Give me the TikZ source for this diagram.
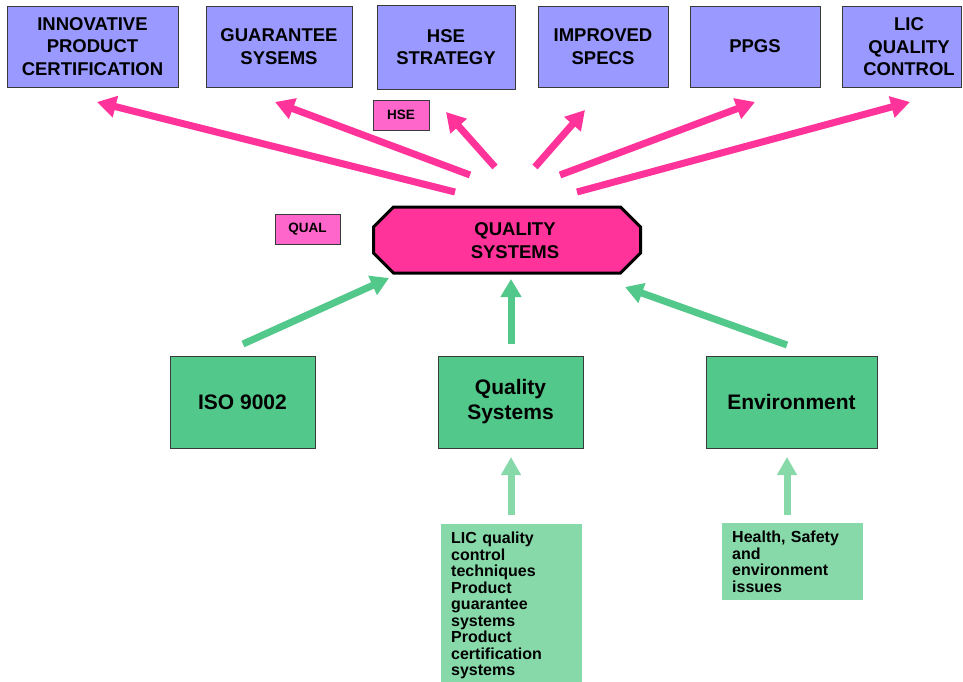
\documentclass[tikz,border=0pt]{standalone}
\usepackage{fontspec}
\setmainfont{Liberation Sans}
\usetikzlibrary{arrows.meta,calc}

\definecolor{lavender}{HTML}{9999FF}
\definecolor{hotpink}{HTML}{FF3399}
\definecolor{labelpink}{HTML}{FF66CC}
\definecolor{midgreen}{HTML}{52C88A}
\definecolor{palegreen}{HTML}{88D9AA}
\definecolor{edgegray}{HTML}{3A3A3A}

\begin{document}
\begin{tikzpicture}[x=1pt,y=-1pt,
  topbox/.style={draw=edgegray, line width=0.8pt, fill=lavender, minimum height=81pt,
    inner sep=0pt, align=center, font=\fontsize{18.5}{22.5}\selectfont\bfseries},
  toptext/.style={inner sep=0pt, align=center, font=\fontsize{18.5}{22.5}\selectfont\bfseries},
  tag/.style={draw=edgegray, line width=0.8pt, fill=labelpink, minimum height=30pt,
    inner sep=0pt, font=\fontsize{13.5}{15}\selectfont\bfseries},
  hub/.style={inner sep=0pt, outer sep=0pt, minimum width=267pt, minimum height=66pt},
  hubedge/.style={draw=black, line width=3pt, fill=hotpink, line join=miter},
  hubtext/.style={inner sep=0pt, align=center, font=\fontsize{18.5}{23}\selectfont\bfseries},
  greenbox/.style={draw=edgegray, line width=0.8pt, fill=midgreen, minimum height=92pt,
    inner sep=0pt, align=center, font=\fontsize{21}{25}\selectfont\bfseries},
  notebox/.style={fill=palegreen, anchor=north west, text width=121pt, inner xsep=10pt,
    inner ysep=8pt, align=left, font=\fontsize{16}{16.5}\selectfont\bfseries},
  outarrow/.style={draw=hotpink, line width=7pt, -{Triangle[length=19pt,width=21pt]}},
  inarrow/.style={draw=midgreen, line width=7pt, -{Triangle[length=18pt,width=20pt]}},
  feedarrow/.style={draw=palegreen, line width=7pt, -{Triangle[length=18pt,width=19pt]}}
]
\path[use as bounding box, fill=white] (0,0) rectangle (963,681);

% outcome boxes along the top
\node[topbox, minimum width=171pt] (ipc) at (92.5,46.5) {INNOVATIVE\\PRODUCT\\CERTIFICATION};
\node[topbox, minimum width=146pt] (gs)  at (279,46.5) {GUARANTEE\\SYSEMS};
\node[topbox, minimum width=138pt, minimum height=84pt] (hse) at (446,47) {HSE\\STRATEGY};
\node[topbox, minimum width=130pt] (spec) at (603,46.5) {IMPROVED\\SPECS};
\node[topbox, minimum width=130pt] (ppgs) at (755,46.5) {PPGS};
\node[topbox, minimum width=119pt] (lic) at (901.5,46.5) {};
\node[toptext] (lictext) at (909,47) {LIC\\QUALITY\\CONTROL};

% small tags
\node[tag, minimum width=56pt] (hsetag) at (401,115) {HSE};
\node[tag, minimum width=65pt] (qualtag) at (307.5,229) {QUAL};

% central octagon
\node[hub] (qs) at (507,240) {};
\path[hubedge]
  ([xshift=20pt]qs.north west) -- ([xshift=-20pt]qs.north east)
  -- ([yshift=-20pt]qs.north east) -- ([yshift=20pt]qs.south east)
  -- ([xshift=-20pt]qs.south east) -- ([xshift=20pt]qs.south west)
  -- ([yshift=20pt]qs.south west) -- ([yshift=-20pt]qs.north west) -- cycle;
\node[hubtext] (qstext) at (515,241) {QUALITY\\SYSTEMS};

% input boxes
\node[greenbox, minimum width=145pt] (iso) at (242.5,402) {ISO 9002};
\node[greenbox, minimum width=145pt] (qsys) at (510.5,402) {Quality\\Systems};
\node[greenbox, minimum width=171pt] (env) at (791.5,402) {Environment};

% notes below
\node[notebox] (licnote) at (441,524) {LIC quality\\control\\techniques\\Product\\guarantee\\systems\\Product\\certification\\systems};
\node[notebox] (hsenote) at (722,523) {Health, Safety\\and\\environment\\issues};

% arrow end points
\coordinate (o1) at (455,192); \coordinate (t1) at (97,102);
\coordinate (o2) at (470,175); \coordinate (t2) at (275,102);
\coordinate (o3) at (495,167); \coordinate (t3) at (446,112);
\coordinate (o4) at (535,167); \coordinate (t4) at (585,110);
\coordinate (o5) at (560,175); \coordinate (t5) at (755,102);
\coordinate (o6) at (577,192); \coordinate (t6) at (910,102);

\coordinate (i1) at (243,344); \coordinate (h1) at (389,278);
\coordinate (i2) at (511,344); \coordinate (h2) at (511,279);
\coordinate (i3) at (787,345); \coordinate (h3) at (625,287);

\coordinate (f1) at (511,515); \coordinate (u1) at (511,457);
\coordinate (f2) at (787,515); \coordinate (u2) at (787,457);

% outgoing arrows
\draw[outarrow] (o1) -- (t1);
\draw[outarrow] (o2) -- (t2);
\draw[outarrow] (o3) -- (t3);
\draw[outarrow] (o4) -- (t4);
\draw[outarrow] (o5) -- (t5);
\draw[outarrow] (o6) -- (t6);

% incoming arrows
\draw[inarrow] (i1) -- (h1);
\draw[inarrow] (i2) -- (h2);
\draw[inarrow] (i3) -- (h3);

% feeding arrows
\draw[feedarrow] (f1) -- (u1);
\draw[feedarrow] (f2) -- (u2);
\end{tikzpicture}
\end{document}
